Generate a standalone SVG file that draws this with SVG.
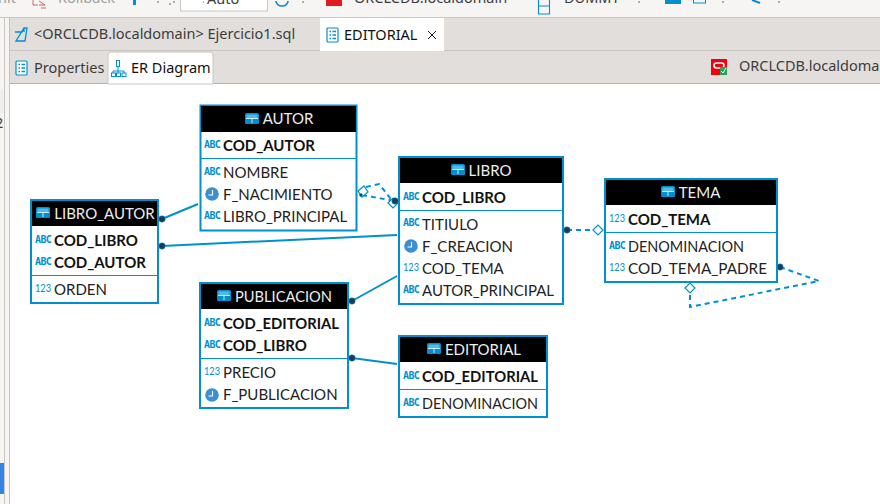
<svg xmlns="http://www.w3.org/2000/svg" width="880" height="504" viewBox="0 0 880 504">
<style>
text{font-family:"Lato","Noto Sans",sans-serif;font-size:15px;fill:#222}
.ui{font-family:"Noto Sans","Open Sans",sans-serif;font-size:14.5px;fill:#3d3d3d}
.box{fill:#fff;stroke:#0090d0;stroke-width:2}
.hd{fill:#000}
.sep{stroke:#0090d0;stroke-width:1}
.t{fill:#eee;text-anchor:middle}
.k{font-weight:700;fill:#111}
.n{font-size:12px;fill:#0090d0}
.a{font-family:"DejaVu Sans Mono",monospace;font-size:10px;font-weight:700;fill:#0090d0;letter-spacing:-.6px}
.c{fill:none;stroke:#0090d0;stroke-width:2}
.d{stroke-dasharray:5 4}
.dot{fill:#1c3a55;stroke:#0090d0;stroke-width:.5}
.dia{fill:#fff;stroke:#0090d0;stroke-width:1.2}
</style>
<defs>
<g id="tb"><rect x="0" y="0" width="14" height="11" rx="1.5" fill="#0090d0"/><rect x="1.500" y="1.500" width="11" height="3.500" fill="#55b8ea"/><path d="M1 5.500H13M7 5.500V10" stroke="#fff" stroke-width=".8"/></g>
<g id="clk"><circle cx="6" cy="6" r="6.800" fill="#3d8fd0"/><path d="M6.500 2V7H2.500" fill="none" stroke="#fff" stroke-width="1.100"/></g>
<g id="doc"><rect x="1" y="0" width="11" height="14" rx="1" fill="#fff" stroke="#0090d0" stroke-width="1.200"/><path d="M3.500 3.500H5M3.500 7H5M3.500 10.500H5M6.500 3.500H10M6.500 7H10M6.500 10.500H10" stroke="#0090d0" stroke-width="1.500"/></g>
</defs>
<rect width="880" height="504" fill="#fff"/>
<g id="chrome">
<rect width="880" height="18" fill="#f6f5f3"/>
<rect y="17" width="880" height="1" fill="#c9c6c2"/>
<rect y="18" width="880" height="33" fill="#e1dedb"/>
<rect y="50" width="880" height="1" fill="#c9c6c2"/>
<rect y="51" width="880" height="33" fill="#e1dedb"/>
<rect y="83" width="880" height="1" fill="#b5b3b0"/>
<rect x="0" y="18" width="10" height="486" fill="#f6f5f3"/>
<rect x="4" y="18" width="1" height="486" fill="#c9c6c2"/>
<rect x="9" y="18" width="1" height="486" fill="#c4c2be"/>
<rect x="0" y="90" width="4" height="23" fill="#efefef"/>
<rect x="0" y="463" width="4" height="31" fill="#3584e4"/>
<text class="ui" x="-5" y="128">2</text>
<rect x="180.500" y="-2" width="87" height="13" fill="#fff" stroke="#c9c6c2"/>
<text class="ui" x="-2" y="3" style="fill:#a0a0a0">nit</text>
<text class="ui" x="58" y="3" style="fill:#a0a0a0">Rollback</text>
<text class="ui" x="207" y="4">Auto</text>
<text class="ui" x="354" y="3">ORCLCDB.localdomain</text>
<text class="ui" x="564" y="3">DUMMY</text>
<path d="M33 0V5H38M39 1L45 5H39M41 8H46" fill="none" stroke="#c76a5f" stroke-width="1"/>
<rect x="133" y="0" width="3" height="5" fill="#0090d0"/>
<path d="M276 1A6 5 0 0 0 288 1" fill="none" stroke="#0090d0" stroke-width="1.600"/>
<rect x="326" y="0" width="16" height="6" fill="#e01b24"/>
<path d="M538.500 0V14H549.500V0M538.500 6H549.500" fill="none" stroke="#0090d0" stroke-width="1.100"/>
<path d="M665 0H681V4H665Z" fill="#0090d0"/>
<rect x="693.500" y="-2" width="12" height="5" fill="none" stroke="#0090d0"/>
<path d="M752 0L760 3" stroke="#0090d0" stroke-width="2"/>
<path d="M157 2h2M173 2h2M203 2h1M170 3v2M302 2h2M638 2h2M722 2h2M778 2h2" stroke="#9a9692" stroke-width="1.500"/>
<rect x="320" y="18" width="124" height="33" fill="#fff"/>
<path d="M15 32H22L24 28V32M24 28H27L25 41H16Z" fill="none" stroke="#0090d0" stroke-width="1.300"/>
<text class="ui" x="34" y="39">&lt;ORCLCDB.localdomain&gt; Ejercicio1.sql</text>
<use href="#doc" x="326" y="28"/>
<text class="ui" x="344" y="40" style="fill:#111">EDITORIAL</text>
<path d="M428 31L436 39M436 31L428 39" stroke="#222" stroke-width="1"/>
<path d="M108 84V55Q108 52 111 52H210Q213 52 213 55V84Z" fill="#fff" stroke="#c9c6c2"/>
<use href="#doc" x="15" y="61"/>
<text class="ui" x="34" y="73">Properties</text>
<path d="M118 67V71M113 73V71H124V73M118 71V73" fill="none" stroke="#0090d0" stroke-width="1"/>
<rect x="116.500" y="60.500" width="3" height="6" fill="none" stroke="#0090d0"/>
<rect x="111.500" y="73" width="4" height="3.500" fill="none" stroke="#0090d0"/><rect x="116.500" y="73" width="4" height="3.500" fill="none" stroke="#0090d0"/><rect x="122" y="73" width="4" height="3.500" fill="none" stroke="#0090d0"/>
<text class="ui" x="131" y="73" style="fill:#111">ER Diagram</text>
<rect x="711" y="59" width="16" height="16" fill="#f2000f"/>
<rect x="714" y="63" width="10" height="5" rx="2.500" fill="none" stroke="#fff" stroke-width="1.600"/>
<rect x="720" y="67" width="7" height="8" fill="#1fa65a"/>
<path d="M721 71L723 73L726 68" fill="none" stroke="#fff"/>
<text class="ui" x="739" y="71">ORCLCDB.localdomain</text>
</g>
<g id="connectors">
<path class="c" d="M162 219L198 204"/>
<path class="c" d="M162 246L397 235"/>
<path class="c" d="M352 301L397 276"/>
<path class="c" d="M352 358L397 364"/>
<path class="c d" d="M362 195L395 201M366 187L379 184L391 199"/>
<path class="c d" d="M567 230H593"/>
<path class="c d" d="M780 267L819 281L690 307V294"/>
<path class="dia" d="M358 191L364 186L368 192L362 197Z"/>
<path class="dia" d="M388 203L393 198L398 203L393 208Z"/>
<path class="dia" d="M593 230L598 225L603 230L598 235Z"/>
<path class="dia" d="M685 288L690 283L695 288L690 293Z"/>
<circle class="dot" cx="162" cy="219" r="3.200"/>
<circle class="dot" cx="162" cy="246" r="3.200"/>
<circle class="dot" cx="352" cy="301" r="3.200"/>
<circle class="dot" cx="352" cy="358" r="3.200"/>
<circle class="dot" cx="395" cy="201" r="3.200"/>
<circle class="dot" cx="361" cy="195" r="1.500"/>
<circle class="dot" cx="567" cy="230" r="3.200"/>
<circle class="dot" cx="780" cy="267" r="3.200"/>
</g>
<g id="autor">
<rect class="box" x="200.500" y="105.500" width="156" height="125"/>
<rect class="hd" x="201" y="106" width="155" height="26"/>
<path class="sep" d="M201 158.500H356"/>
<use href="#tb" x="245" y="113"/><text class="t" x="288" y="124">AUTOR</text>
<text class="a" x="204" y="148">ABC</text><text class="k" x="223" y="151">COD_AUTOR</text>
<text class="a" x="204" y="175">ABC</text><text x="223" y="178">NOMBRE</text>
<use href="#clk" x="206" y="188"/><text x="223" y="200">F_NACIMIENTO</text>
<text class="a" x="204" y="219">ABC</text><text x="223" y="222">LIBRO_PRINCIPAL</text>
</g>
<g id="libro_autor">
<rect class="box" x="31" y="200" width="127" height="103"/>
<rect class="hd" x="32" y="201" width="125" height="25"/>
<path class="sep" d="M32 275.500H157"/>
<use href="#tb" x="36" y="207"/><text class="t" x="104.500" y="219">LIBRO_AUTOR</text>
<text class="a" x="35" y="243">ABC</text><text class="k" x="54" y="246">COD_LIBRO</text>
<text class="a" x="35" y="265">ABC</text><text class="k" x="54" y="268">COD_AUTOR</text>
<text class="n" x="35" y="292" textLength="16" lengthAdjust="spacingAndGlyphs">123</text><text x="54" y="295">ORDEN</text>
</g>
<g id="libro">
<rect class="box" x="399" y="157" width="164" height="147"/>
<rect class="hd" x="400" y="158" width="162" height="25"/>
<path class="sep" d="M400 210.500H562"/>
<use href="#tb" x="451" y="164"/><text class="t" x="490" y="176">LIBRO</text>
<text class="a" x="403" y="200">ABC</text><text class="k" x="422" y="203">COD_LIBRO</text>
<text class="a" x="403" y="226">ABC</text><text x="422" y="230">TITIULO</text>
<use href="#clk" x="405" y="240"/><text x="422" y="252">F_CREACION</text>
<text class="n" x="403" y="271" textLength="16" lengthAdjust="spacingAndGlyphs">123</text><text x="422" y="274">COD_TEMA</text>
<text class="a" x="403" y="293">ABC</text><text x="422" y="296">AUTOR_PRINCIPAL</text>
</g>
<g id="tema">
<rect class="box" x="605" y="179" width="172" height="103"/>
<rect class="hd" x="606" y="180" width="170" height="25"/>
<path class="sep" d="M606 232.500H776"/>
<use href="#tb" x="661" y="186"/><text class="t" x="699.500" y="198">TEMA</text>
<text class="n" x="609" y="222" textLength="16" lengthAdjust="spacingAndGlyphs">123</text><text class="k" x="628" y="225">COD_TEMA</text>
<text class="a" x="609" y="249">ABC</text><text x="628" y="252" textLength="116" lengthAdjust="spacingAndGlyphs">DENOMINACION</text>
<text class="n" x="609" y="271" textLength="16" lengthAdjust="spacingAndGlyphs">123</text><text x="628" y="274" textLength="139" lengthAdjust="spacingAndGlyphs">COD_TEMA_PADRE</text>
</g>
<g id="publicacion">
<rect class="box" x="200" y="283" width="148" height="125"/>
<rect class="hd" x="201" y="284" width="146" height="25"/>
<path class="sep" d="M201 358.500H347"/>
<use href="#tb" x="217" y="290"/><text x="235" y="302" class="t" style="text-anchor:start" textLength="97" lengthAdjust="spacingAndGlyphs">PUBLICACION</text>
<text class="a" x="204" y="326">ABC</text><text class="k" x="223" y="329" textLength="116" lengthAdjust="spacingAndGlyphs">COD_EDITORIAL</text>
<text class="a" x="204" y="348">ABC</text><text class="k" x="223" y="351">COD_LIBRO</text>
<text class="n" x="204" y="375" textLength="16" lengthAdjust="spacingAndGlyphs">123</text><text x="223" y="378">PRECIO</text>
<use href="#clk" x="206" y="389"/><text x="223" y="400">F_PUBLICACION</text>
</g>
<g id="editorial">
<rect class="box" x="399" y="336" width="148" height="81"/>
<rect class="hd" x="400" y="337" width="146" height="25"/>
<path class="sep" d="M400 389.500H546"/>
<use href="#tb" x="427" y="343"/><text class="t" x="483" y="355">EDITORIAL</text>
<text class="a" x="403" y="379">ABC</text><text class="k" x="422" y="382" textLength="116" lengthAdjust="spacingAndGlyphs">COD_EDITORIAL</text>
<text class="a" x="403" y="406">ABC</text><text x="422" y="409" textLength="116" lengthAdjust="spacingAndGlyphs">DENOMINACION</text>
</g>
</svg>
